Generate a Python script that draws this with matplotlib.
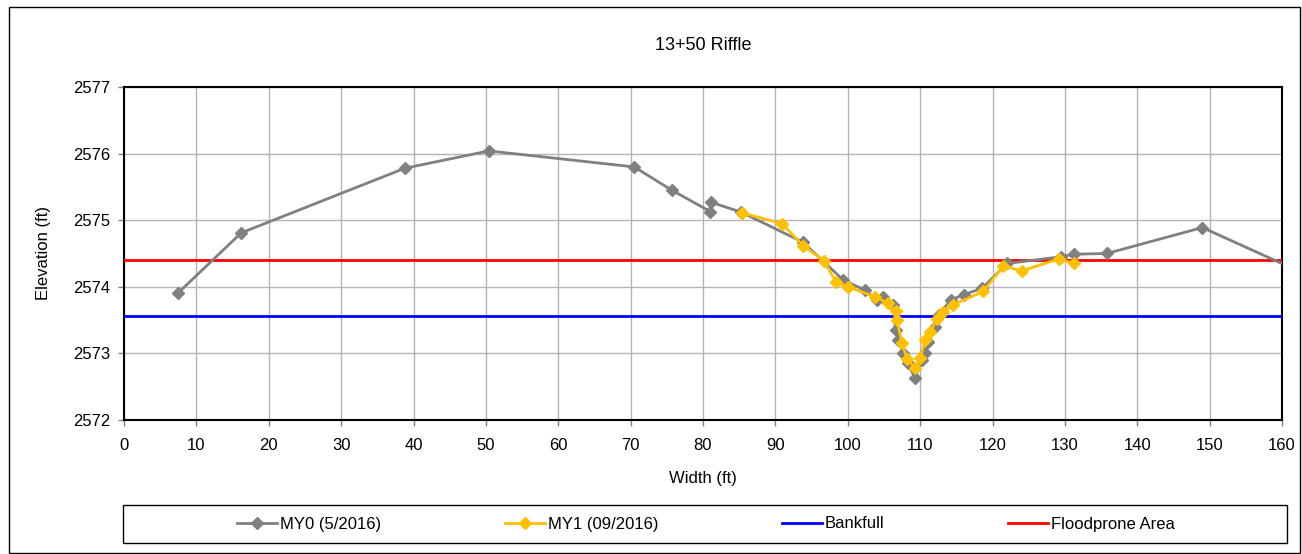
import matplotlib
matplotlib.use("Agg")
import matplotlib.pyplot as plt
from matplotlib.patches import Rectangle
from matplotlib.lines import Line2D

plt.rcParams['font.family'] = ['Liberation Sans', 'DejaVu Sans']

title = "13+50 Riffle"
x_label = "Width (ft)"
y_label = "Elevation (ft)"

my0_x = [7.5, 16.2, 38.8, 50.4, 70.5, 75.7, 81.0, 81.1, 85.3, 93.8, 99.4, 102.4,
         104.1, 104.9, 106.3, 106.6, 107.0, 107.7, 108.3, 109.3, 110.2, 110.7,
         111.1, 112.1, 112.6, 114.2, 116.0, 118.6, 122.0, 129.4, 131.2, 135.8,
         149.0, 162.0]
my0_y = [2573.91, 2574.81, 2575.78, 2576.04, 2575.80, 2575.45, 2575.13, 2575.27,
         2575.12, 2574.67, 2574.10, 2573.95, 2573.80, 2573.85, 2573.72, 2573.35,
         2573.20, 2573.00, 2572.85, 2572.63, 2572.90, 2573.00, 2573.17, 2573.40,
         2573.58, 2573.80, 2573.88, 2573.98, 2574.35, 2574.45, 2574.49, 2574.50,
         2574.89, 2574.25]

my1_x = [85.4, 90.9, 93.8, 96.7, 98.4, 100.1, 103.7, 105.5, 106.6, 106.8, 107.5,
         108.2, 109.3, 110.0, 110.7, 111.4, 112.3, 113.2, 114.6, 118.7, 121.5,
         124.1, 129.2, 131.2]
my1_y = [2575.11, 2574.95, 2574.62, 2574.39, 2574.07, 2574.00, 2573.85, 2573.76,
         2573.63, 2573.50, 2573.15, 2572.92, 2572.78, 2572.93, 2573.20, 2573.32,
         2573.52, 2573.62, 2573.73, 2573.93, 2574.31, 2574.24, 2574.42, 2574.35]

bankfull = 2573.56
floodprone = 2574.40

x_ticks = list(range(0, 161, 10))
y_ticks = [2572, 2573, 2574, 2575, 2576, 2577]

series_names = ["MY0 (5/2016)", "MY1 (09/2016)", "Bankfull", "Floodprone Area"]
colors = ["#808080", "#FFC000", "#0000FF", "#FF0000"]

FS = 12
W, H = 1302, 554
fig = plt.figure(figsize=(W / 100, H / 100), dpi=100)
ax = fig.add_axes([124 / W, 1 - 420 / H, (1282 - 124) / W, (420 - 87) / H])

ax.axhline(bankfull, color=colors[2], lw=2, zorder=3)
ax.axhline(floodprone, color=colors[3], lw=2, zorder=3)
ax.plot(my0_x, my0_y, color=colors[0], lw=2, marker='D', ms=6.5, zorder=4)
ax.plot(my1_x, my1_y, color=colors[1], lw=2, marker='D', ms=6.5, zorder=5)

ax.set_xlim(0, 160)
ax.set_ylim(2572, 2577)
ax.set_xticks(x_ticks)
ax.set_yticks(y_ticks)
ax.grid(True, color="#b4b4b4", lw=1, zorder=0)
ax.set_axisbelow(True)
for s in ax.spines.values():
    s.set_color("black")
    s.set_linewidth(1.5)
ax.tick_params(axis='both', direction='out', length=4, width=1, color="#808080",
               labelsize=FS)
ax.tick_params(axis='x', pad=9)
ax.tick_params(axis='y', pad=6)
ax.set_xlabel(x_label, fontsize=FS, labelpad=13)
ax.set_ylabel(y_label, fontsize=FS, labelpad=16)

fig.text(703 / W, 1 - 45 / H, title, ha='center', va='center', fontsize=13)

# legend
handles = [
    Line2D([], [], color=colors[0], lw=2, marker='D', ms=6.5),
    Line2D([], [], color=colors[1], lw=2, marker='D', ms=6.5),
    Line2D([], [], color=colors[2], lw=2),
    Line2D([], [], color=colors[3], lw=2),
]
fig.legend(handles, series_names, loc='center', bbox_to_anchor=(706 / W, 1 - 524 / H),
           ncol=4, frameon=False, fontsize=FS, handlelength=2.4, handletextpad=0.2,
           columnspacing=7.4)
fig.add_artist(Rectangle((123 / W, 1 - 543 / H), (1287 - 123) / W, 38 / H,
                         transform=fig.transFigure, fill=False, edgecolor="black",
                         lw=1))
# outer chart border
fig.add_artist(Rectangle((9 / W, 1 - 553 / H), (1300 - 9) / W, (553 - 7) / H,
                         transform=fig.transFigure, fill=False, edgecolor="black",
                         lw=1))

fig.savefig("out.png", dpi=100)
